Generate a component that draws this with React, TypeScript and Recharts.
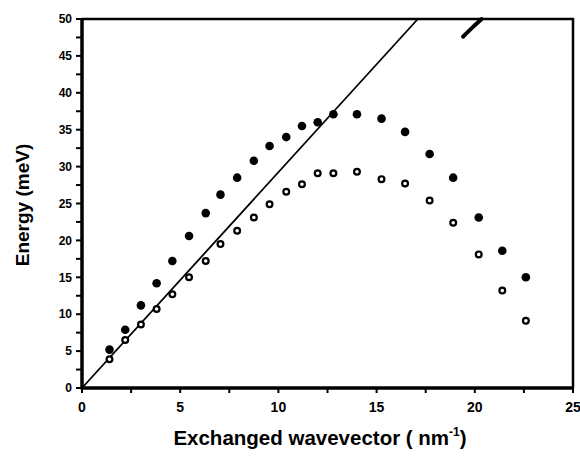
import { ComposedChart, Line, Scatter, XAxis, YAxis } from 'recharts';

// exchanged wavevector (nm^-1), shared by both branches
const wavevector = [1.4, 2.2, 3.0, 3.8, 4.6, 5.45, 6.3, 7.05, 7.9, 8.75, 9.55, 10.4, 11.2, 12.0, 12.8, 14.0, 15.25, 16.45, 17.7, 18.9, 20.2, 21.4, 22.6];
const upperEnergy = [5.2, 7.9, 11.2, 14.2, 17.2, 20.6, 23.7, 26.2, 28.5, 30.8, 32.8, 34.0, 35.5, 36.0, 37.1, 37.1, 36.5, 34.7, 31.7, 28.5, 23.1, 18.6, 15.0];
const lowerEnergy = [3.9, 6.5, 8.6, 10.7, 12.7, 15.0, 17.2, 19.5, 21.3, 23.1, 24.9, 26.6, 27.6, 29.1, 29.1, 29.3, 28.3, 27.7, 25.4, 22.4, 18.1, 13.2, 9.1];

const fitX = [0, 17.1];
const fitY = [0, 50];

// stray pen mark near the top frame
const markX = [19.4, 19.9, 20.35];
const markY = [47.6, 48.9, 50];

// frame: left+bottom half and top+right half
const frameLowX = [0, 0, 25];
const frameLowY = [50, 0, 0];
const frameHighX = [0, 25, 25];
const frameHighY = [50, 50, 0];

const xTicks = [0, 2.5, 5, 7.5, 10, 12.5, 15, 17.5, 20, 22.5, 25];
const yTicks = [0, 2.5, 5, 7.5, 10, 12.5, 15, 17.5, 20, 22.5, 25, 27.5, 30, 32.5, 35, 37.5, 40, 42.5, 45, 47.5, 50];

const upperData = wavevector.map((x, i) => ({ x, upper: upperEnergy[i] }));
const lowerData = wavevector.map((x, i) => ({ x, lower: lowerEnergy[i] }));
const fitData = fitX.map((x, i) => ({ x, fit: fitY[i] }));
const markData = markX.map((x, i) => ({ x, mark: markY[i] }));
const frameLow = frameLowX.map((x, i) => ({ x, f: frameLowY[i] }));
const frameHigh = frameHighX.map((x, i) => ({ x, g: frameHighY[i] }));

const FONT = 'Liberation Sans, Arial, sans-serif';
const W = 580;
const H = 456;
const MARGIN = { top: 19, right: 7, bottom: 68, left: 82 };

const majorOnly = (v: number) => (v % 5 === 0 ? String(v) : '');
const blank = () => '';

const XLabel = ({ viewBox }: any) => (
  <text x={320} y={viewBox.y + 57} textAnchor="middle" fontFamily={FONT} fontWeight={700} fontSize={20.5} fill="#000">
    Exchanged wavevector ( nm
    <tspan fontSize={12} dy={-9}>-1</tspan>
    <tspan dy={9}>)</tspan>
  </text>
);

const YLabel = () => {
  const cx = 29;
  const cy = 205;
  return (
    <text
      x={cx}
      y={cy}
      transform={`rotate(-90, ${cx}, ${cy})`}
      textAnchor="middle"
      fontFamily={FONT}
      fontWeight={700}
      fontSize={19}
      fill="#000"
    >
      Energy (meV)
    </text>
  );
};

const FilledDot = ({ cx, cy }: any) => <circle cx={cx} cy={cy} r={4.3} fill="#000" />;
const OpenDot = ({ cx, cy }: any) => <circle cx={cx} cy={cy} r={2.9} fill="#fff" stroke="#000" strokeWidth={2.2} />;

// axes, frame and labels
function Frame() {
  return (
    <ComposedChart width={W} height={H} margin={{ top: MARGIN.top, right: MARGIN.right, bottom: 0, left: 0 }}>
      <XAxis
        dataKey="x"
        type="number"
        domain={[0, 25]}
        ticks={xTicks}
        interval={0}
        tickSize={5}
        tickMargin={9}
        height={MARGIN.bottom}
        stroke="#000"
        axisLine={{ stroke: '#000', strokeWidth: 3 }}
        tickLine={{ stroke: '#000', strokeWidth: 2 }}
        tick={{ fill: '#000', fontSize: 14, fontWeight: 700, fontFamily: FONT }}
        tickFormatter={majorOnly}
        label={<XLabel />}
      />
      <YAxis
        type="number"
        domain={[0, 50]}
        ticks={yTicks}
        interval={0}
        tickSize={6}
        tickMargin={4}
        width={MARGIN.left}
        stroke="#000"
        axisLine={{ stroke: '#000', strokeWidth: 3 }}
        tickLine={{ stroke: '#000', strokeWidth: 2 }}
        tick={{ fill: '#000', fontSize: 12, fontWeight: 700, fontFamily: FONT }}
        tickFormatter={majorOnly}
        label={<YLabel />}
      />
      <XAxis
        xAxisId="top"
        orientation="top"
        mirror
        dataKey="x"
        type="number"
        domain={[0, 25]}
        ticks={xTicks}
        interval={0}
        tickSize={4}
        height={0}
        stroke="#000"
        axisLine={{ stroke: '#000', strokeWidth: 2.5 }}
        tickLine={{ stroke: '#000', strokeWidth: 2 }}
        tickFormatter={blank}
      />
      <YAxis
        yAxisId="right"
        orientation="right"
        mirror
        type="number"
        domain={[0, 50]}
        ticks={yTicks}
        interval={0}
        tickSize={4}
        width={0}
        stroke="#000"
        axisLine={{ stroke: '#000', strokeWidth: 2.5 }}
        tickLine={{ stroke: '#000', strokeWidth: 2 }}
        tickFormatter={blank}
      />
      <Line data={frameLow} dataKey="f" type="linear" stroke="#000" strokeWidth={3} dot={false} isAnimationActive={false} />
      <Line
        data={frameHigh}
        xAxisId="top"
        yAxisId="right"
        dataKey="g"
        type="linear"
        stroke="#000"
        strokeWidth={2.5}
        dot={false}
        isAnimationActive={false}
      />
    </ComposedChart>
  );
}

// data layer, laid over the frame with the same plot area
function DataLayer() {
  return (
    <ComposedChart width={W} height={H} margin={MARGIN}>
      <XAxis dataKey="x" type="number" domain={[0, 25]} hide />
      <YAxis type="number" domain={[0, 50]} hide />
      <Line data={fitData} dataKey="fit" type="linear" stroke="#000" strokeWidth={1.8} dot={false} isAnimationActive={false} />
      <Line
        data={markData}
        dataKey="mark"
        type="monotone"
        stroke="#000"
        strokeWidth={4}
        strokeLinecap="round"
        dot={false}
        isAnimationActive={false}
      />
      <Scatter data={upperData} dataKey="upper" shape={<FilledDot />} isAnimationActive={false} />
      <Scatter data={lowerData} dataKey="lower" shape={<OpenDot />} isAnimationActive={false} />
    </ComposedChart>
  );
}

export default function App() {
  return (
    <div style={{ position: 'absolute', left: 0, top: 0, width: W, height: H, background: '#fff' }}>
      <div style={{ position: 'absolute', left: 0, top: 0 }}>
        <Frame />
      </div>
      <div style={{ position: 'absolute', left: 0, top: 0, pointerEvents: 'none' }}>
        <DataLayer />
      </div>
    </div>
  );
}
